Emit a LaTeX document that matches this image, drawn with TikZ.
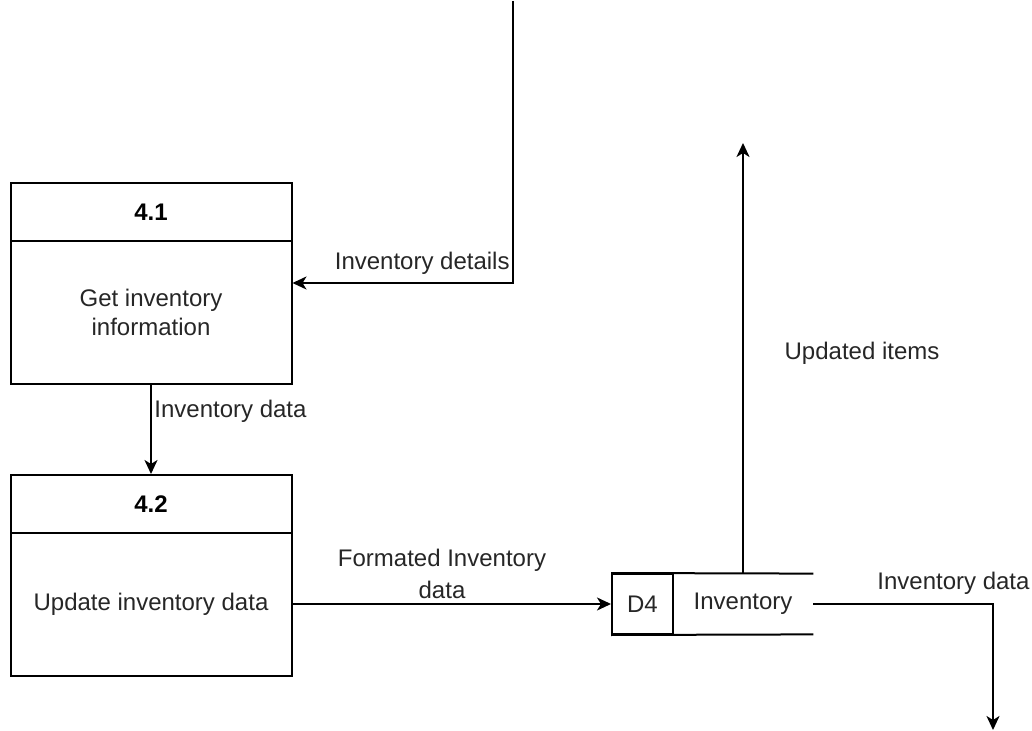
\documentclass[tikz,border=0pt]{standalone}
\usepackage{fontspec}
\setmainfont{Liberation Sans}
\usetikzlibrary{arrows.meta}
\begin{document}
\begin{tikzpicture}[x=0.5pt,y=-0.5pt,
  txt/.style={font=\fontsize{12}{14.5}\selectfont, text=black!85, inner sep=0pt, align=center},
  boxhead/.style={draw, line width=1pt, minimum width=140.5pt, minimum height=29pt, inner sep=0pt,
    font=\fontsize{12}{14.5}\selectfont\bfseries},
  boxbody/.style={draw, line width=1pt, minimum width=140.5pt, minimum height=71.5pt, inner sep=0pt,
    align=center, font=\fontsize{12}{14.5}\selectfont, text=black!85},
  storeid/.style={draw, line width=1pt, minimum width=30.5pt, minimum height=30pt, inner sep=0pt,
    font=\fontsize{12}{14.5}\selectfont, text=black!85},
  storename/.style={minimum width=70pt, minimum height=30pt, inner sep=0pt,
    font=\fontsize{12}{14.5}\selectfont, text=black!85},
  flow/.style={line width=1pt, -{Stealth[length=7pt,width=6.5pt,inset=2pt]}},
  plain/.style={line width=1pt}
]
\useasboundingbox (0,0) rectangle (1032,731);

% process 4.1
\node[boxhead] (p41h) at (151,212) {4.1};
\node[boxbody] (p41b) at (151,312.5) {Get inventory\\information};

% process 4.2
\node[boxhead] (p42h) at (151,504) {4.2};
\node[boxbody] (p42b) at (151,604) {Update inventory data};

% data store D4: id cell plus open-ended name cell
\node[storeid] (d4) at (642.5,604) {D4};
\node[storename] (inv) at (743,604) {Inventory};
\draw[plain] (d4.north west) -- (inv.north east);
\draw[plain] (d4.south west) -- (inv.south east);

% free ends of the flows
\coordinate (src) at (513,1);
\coordinate (upend) at (743,143);
\coordinate (downend) at (993,730);

% flows
\draw[flow] (src) |- ([yshift=14.75pt]p41b.east);
\draw[flow] (p41b.south) -- (p42h.north);
\draw[flow] (p42b.east) -- (d4.west);
\draw[flow] (inv.north) -- (upend);
\draw[flow] (inv.east) -| (downend);

% flow labels
\node[txt, anchor=east] (lbl1) at (510,263) {Inventory details};
\node[txt, anchor=west] (lbl2) at (154,411) {Inventory data};
\node[txt, font=\fontsize{12}{16}\selectfont] (lbl3) at (442,574) {Formated Inventory\\data};
\node[txt] (lbl4) at (862,353) {Updated items};
\node[txt, anchor=west] (lbl5) at (877,583) {Inventory data};
\end{tikzpicture}
\end{document}
